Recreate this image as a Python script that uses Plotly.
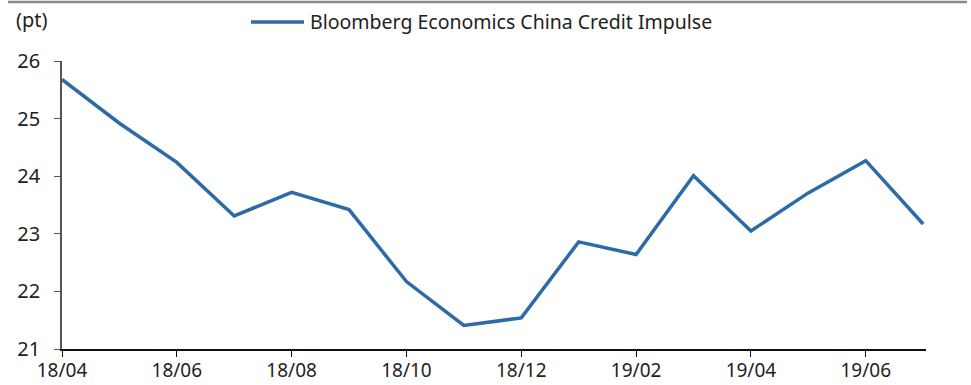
import plotly.graph_objects as go

months = ["18/04", "18/05", "18/06", "18/07", "18/08", "18/09", "18/10", "18/11",
          "18/12", "19/01", "19/02", "19/03", "19/04", "19/05", "19/06", "19/07"]
impulse = [25.68, 24.92, 24.24, 23.31, 23.72, 23.42, 22.17, 21.41,
           21.54, 22.86, 22.64, 24.01, 23.05, 23.71, 24.27, 23.17]
series_name = "Bloomberg Economics China Credit Impulse"
tick_labels = ["18/04", "18/06", "18/08", "18/10", "18/12", "19/02", "19/04", "19/06"]
y_ticks = [21, 22, 23, 24, 25, 26]

LINE = "#2d6ba7"
FONT = "Noto Sans"

x_idx = list(range(len(months)))
tick_pos = [months.index(t) for t in tick_labels]

fig = go.Figure()
fig.add_trace(go.Scatter(x=x_idx, y=impulse, mode="lines", name=series_name,
                         line=dict(color=LINE, width=3.5), showlegend=False))

W, H = 971, 385
L, R, T, B = 62, 45, 61, 36
pw, ph = W - L - R, H - T - B

def px_x(px):
    return (px - L) / pw

def px_y(py):
    return (H - B - py) / ph

fig.update_layout(
    width=W, height=H,
    margin=dict(l=L, r=R, t=T, b=B, autoexpand=False),
    paper_bgcolor="white", plot_bgcolor="white",
    font=dict(family=FONT, size=20, color="#222222"),
    xaxis=dict(range=[0, 15.05], tickvals=tick_pos, ticktext=tick_labels,
               showgrid=False, zeroline=False, showline=True, linecolor="#111111",
               linewidth=1.5, ticks="outside", ticklen=6, tickcolor="#111111",
               automargin=False, ticklabelstandoff=-3,
               tickfont=dict(size=19, color="#222222")),
    yaxis=dict(range=[21, 26], tickvals=y_ticks, showgrid=False, zeroline=False,
               showline=True, linecolor="#555555", linewidth=1.5, ticks="outside",
               ticklen=6, tickcolor="#555555", automargin=False, ticklabelstandoff=10,
               tickfont=dict(size=20, color="#222222")),
    shapes=[
        dict(type="line", xref="paper", yref="paper", x0=px_x(8), x1=px_x(967),
             y0=px_y(2), y1=px_y(2), line=dict(color="#8a8a8a", width=2.5)),
        dict(type="line", xref="paper", yref="paper", x0=px_x(251), x1=px_x(304),
             y0=px_y(22), y1=px_y(22), line=dict(color=LINE, width=3.5)),
    ],
    annotations=[
        dict(text="(pt)", xref="paper", yref="paper", x=px_x(14), y=px_y(20),
             xanchor="left", yanchor="middle", showarrow=False,
             font=dict(size=20, color="#222222")),
        dict(text=series_name, xref="paper", yref="paper", x=px_x(308), y=px_y(22),
             xanchor="left", yanchor="middle", showarrow=False,
             font=dict(size=19.5, color="#222222")),
    ],
)

fig.write_html("out.html")
